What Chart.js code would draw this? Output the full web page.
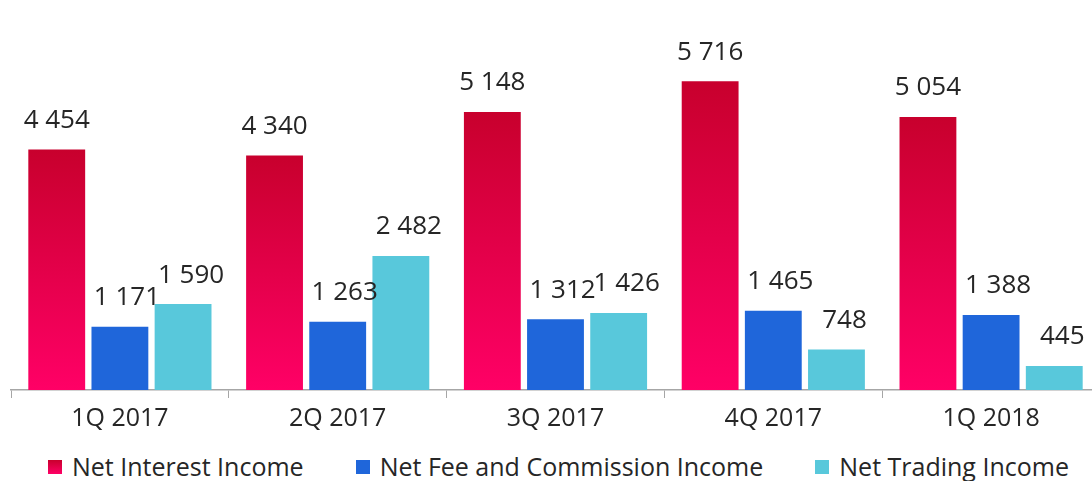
<!DOCTYPE html>
<html lang="en">
<head>
  <meta charset="UTF-8">
  <title>Income by quarter</title>
  <script src="https://cdn.jsdelivr.net/npm/chart.js"></script>
  <style>
    html, body { margin: 0; padding: 0; background: #fff; overflow: hidden; }
    #myChart { display: block; }
    .legend { display: flex; width: 1200px; white-space: nowrap; padding-left: 48px; margin-top: 12px; font: 25px 'Open Sans', sans-serif; color: #262626; line-height: 29px; }
    .legend .item { flex: none; display: flex; align-items: center; margin-right: 52px; }
    .legend .box { flex: none; width: 14px; height: 14px; margin-right: 10px; }
  </style>
</head>
<body>
  <canvas id="myChart" width="1100" height="440"></canvas>
  <div class="legend" id="legend"></div>

  <script>
    const categories = ["1Q 2017", "2Q 2017", "3Q 2017", "4Q 2017", "1Q 2018"];
    const seriesNames = ["Net Interest Income", "Net Fee and Commission Income", "Net Trading Income"];
    const netInterest = [4454, 4340, 5148, 5716, 5054];
    const netFee = [1171, 1263, 1312, 1465, 1388];
    const netTrading = [1590, 2482, 1426, 748, 445];

    const redTop = "#C8002D";
    const redBottom = "#FF0066";
    const blue = "#1F66DA";
    const cyan = "#58C8DB";

    function fmt(v) {
      return String(v).replace(/\B(?=(\d{3})+(?!\d))/g, " ");
    }

    // red bars fade from dark red at the top to pink at the axis
    function redGradient(c) {
      const chart = c.chart;
      if (!chart.chartArea || c.type !== "data") return redTop;
      const y = chart.scales.y;
      const g = chart.ctx.createLinearGradient(0, y.getPixelForValue(c.parsed.y), 0, y.getPixelForValue(0));
      g.addColorStop(0, redTop);
      g.addColorStop(1, redBottom);
      return g;
    }

    const labelShift = [0, 7, 8];
    const valueLabels = {
      id: "valueLabels",
      afterDatasetsDraw(chart) {
        const ctx = chart.ctx;
        ctx.save();
        ctx.font = "26px 'Open Sans'";
        ctx.fillStyle = "#262626";
        ctx.textAlign = "center";
        ctx.textBaseline = "middle";
        chart.data.datasets.forEach((ds, i) => {
          chart.getDatasetMeta(i).data.forEach((bar, j) => {
            ctx.fillText(fmt(ds.data[j]), bar.x + labelShift[i], bar.y - 29);
          });
        });
        ctx.restore();
      }
    };

    const ctx = document.getElementById("myChart");
    const mychart = new Chart(ctx, {
      type: "bar",
      data: {
        labels: categories,
        datasets: [
          { label: seriesNames[0], data: netInterest, backgroundColor: redGradient },
          { label: seriesNames[1], data: netFee, backgroundColor: blue },
          { label: seriesNames[2], data: netTrading, backgroundColor: cyan }
        ]
      },
      options: {
        responsive: false,
        animation: false,
        categoryPercentage: 0.87,
        barPercentage: 0.9,
        layout: { padding: { left: 11, right: 0, top: 0, bottom: 0 } },
        scales: {
          x: {
            grid: { offset: true, drawOnChartArea: false, tickLength: 8, color: "#a6a6a6" },
            border: { color: "#a6a6a6", width: 1.5 },
            ticks: { color: "#262626", padding: 6, font: { family: "Open Sans", size: 25 } }
          },
          y: { display: false, min: 0, max: 7220 }
        },
        plugins: {
          legend: { display: false },
          tooltip: { enabled: false }
        }
      },
      plugins: [valueLabels]
    });

    const legend = document.getElementById("legend");
    [redBottom, blue, cyan].forEach((col, i) => {
      const item = document.createElement("div");
      item.className = "item";
      const box = document.createElement("span");
      box.className = "box";
      box.style.background = i === 0 ? "linear-gradient(" + redTop + "," + redBottom + ")" : col;
      const txt = document.createElement("span");
      txt.textContent = seriesNames[i];
      item.appendChild(box);
      item.appendChild(txt);
      legend.appendChild(item);
    });
  </script>
</body>
</html>
